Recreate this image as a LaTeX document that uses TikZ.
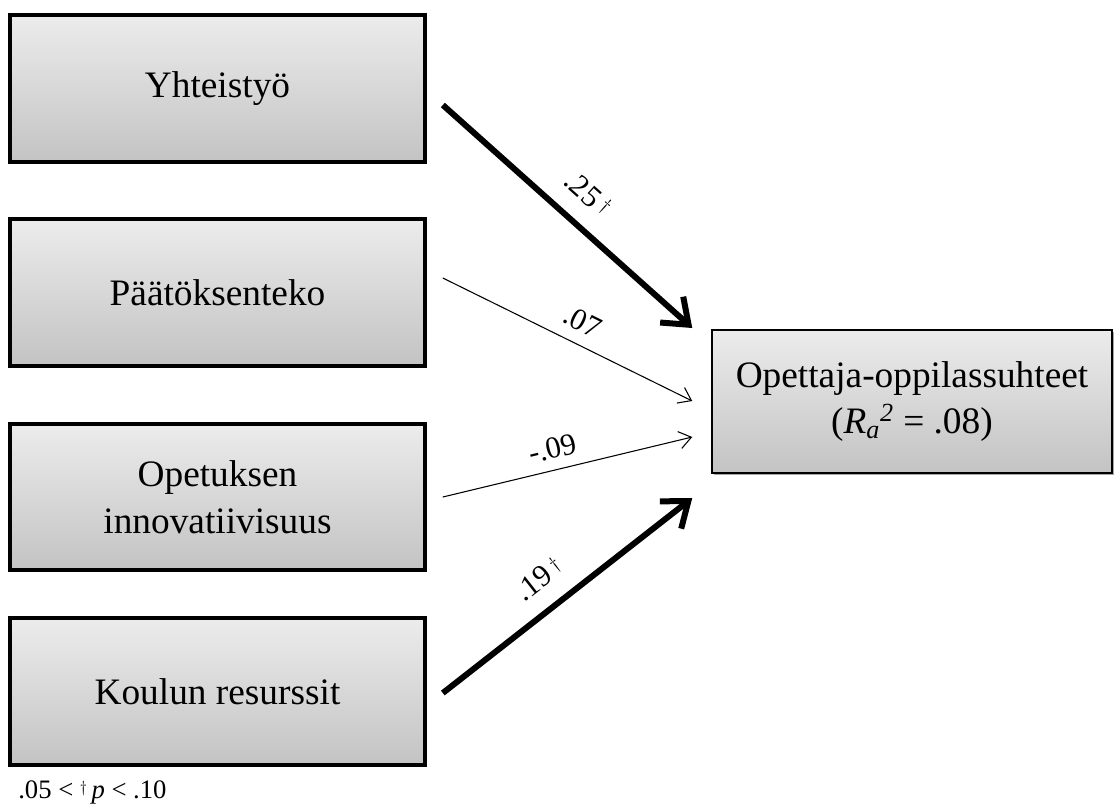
\documentclass[tikz,border=0pt]{standalone}
\usepackage{fontspec}
\setmainfont{Liberation Serif}
\usetikzlibrary{arrows.meta,calc,shadows}
\begin{document}
\begin{tikzpicture}[x=0.75pt,y=-0.75pt,
  box/.style={draw=black, rectangle, top color=gray!15, bottom color=gray!47,
    drop shadow={shadow xshift=1.5pt, shadow yshift=-1.5pt, opacity=0.35, fill=black},
    align=center, font=\fontsize{28}{35}\selectfont, inner sep=0pt},
  leftbox/.style={box, line width=3pt, minimum width=311pt, minimum height=110pt},
  rightbox/.style={box, line width=1.1pt, minimum width=300pt, minimum height=107pt},
  strong/.style={line width=4.5pt, -{Straight Barb[length=17pt,width=26pt,line width=4.5pt]}},
  weak/.style={line width=0.8pt, -{Straight Barb[length=9pt,width=13pt,line width=0.8pt]}},
  lab/.style={font=\fontsize{23}{26}\selectfont, sloped, above, inner sep=3pt}
]
\useasboundingbox (0,0) rectangle (1115,808);

\node[leftbox] (y) at (217.5,88.5) {Yhteistyö};
\node[leftbox] (p) at (217.5,292.5) {Päätöksenteko};
\node[leftbox] (o) at (217.5,497) {Opetuksen\\innovatiivisuus};
\node[leftbox] (k) at (217.5,691.5) {Koulun resurssit};
\node[rightbox] (r) at (912,401.5) {Opettaja-oppilassuhteet\\(\textit{R}\textsubscript{\textit{a}}\textsuperscript{\textit{2}} = .08)};

\coordinate (s1) at ($(y.east)+(16,16.5)$);
\coordinate (s2) at ($(p.east)+(16,-14.5)$);
\coordinate (s3) at ($(o.east)+(16,0)$);
\coordinate (s4) at ($(k.east)+(16,1.5)$);
\coordinate (e1) at ($(r.west)+(-19,-73.5)$);
\coordinate (e2) at ($(r.west)+(-19,-0.5)$);
\coordinate (e3) at ($(r.west)+(-19,35.5)$);
\coordinate (e4) at ($(r.west)+(-19,96.5)$);

\draw[strong] (s1) -- node[lab, pos=0.5, yshift=10pt] {.25\,{\fontsize{14}{14}\selectfont\raisebox{0.35em}{$\dagger$}}} (e1);
\draw[weak] (s2) -- node[lab, pos=0.52, yshift=6pt] {.07} (e2);
\draw[weak] (s3) -- node[lab, pos=0.46, yshift=5pt] {-.09} (e3);
\draw[strong] (s4) -- node[lab, pos=0.46, yshift=10pt] {.19\,{\fontsize{14}{14}\selectfont\raisebox{0.35em}{$\dagger$}}} (e4);

\node[anchor=west, font=\fontsize{20}{24}\selectfont, inner sep=0pt] (note) at (18,792) {.05 < {\fontsize{12}{12}\selectfont\raisebox{0.35em}{$\dagger$}}\,\textit{p} < .10};
\end{tikzpicture}
\end{document}
